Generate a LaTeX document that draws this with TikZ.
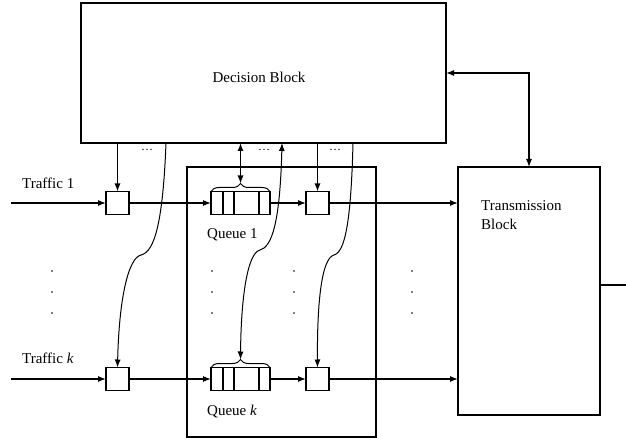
\documentclass[tikz,border=0pt]{standalone}
\usepackage{fontspec}
\setmainfont{Liberation Serif}
\usetikzlibrary{arrows.meta,decorations.pathreplacing,calc}
\begin{document}
\begin{tikzpicture}[x=1pt,y=-1pt,
  blk/.style={draw,line width=1.8pt,inner sep=0pt,outer sep=0pt},
  sbox/.style={draw,line width=1.8pt,minimum width=23pt,minimum height=23pt,inner sep=0pt,outer sep=0pt},
  qbox/.style={draw,line width=1.8pt,minimum width=59pt,minimum height=23pt,inner sep=0pt,outer sep=0pt},
  tip/.style={Latex[length=8pt,width=6pt]},
  conn/.style={line width=1.1pt,-{Latex[length=8pt,width=6pt]}},
  dconn/.style={line width=1.1pt,{Latex[length=8pt,width=6pt]}-{Latex[length=8pt,width=6pt]}},
  lbl/.style={font=\fontsize{15}{19}\selectfont,inner sep=0pt,anchor=west,align=left},
  ell/.style={font=\fontsize{12}{12}\selectfont,inner sep=0pt},
]
\useasboundingbox (0,0) rectangle (626,438);

% blocks
\node[blk,minimum width=365pt,minimum height=140pt] (dec) at (263.5,73) {};
\node[font=\fontsize{15}{19}\selectfont,inner sep=0pt] (dect) at (259,77) {Decision Block};
\node[blk,minimum width=142pt,minimum height=248pt] (tr) at (529,291) {};
\node[lbl] (trt) at (481,215) {Transmission\\Block};
\node[blk,minimum width=189pt,minimum height=270pt] (qb) at (281.5,302) {};

% small boxes and queues
\node[sbox] (b1) at (117.5,203) {};
\node[sbox] (b2) at (317.5,203) {};
\node[sbox] (bk1) at (117.5,379) {};
\node[sbox] (bk2) at (317.5,379) {};
\node[qbox] (q1) at (240.5,203) {};
\node[qbox] (qk) at (240.5,379) {};
\foreach \q in {q1,qk}{
  \foreach \o in {12,23,48}{
    \draw[line width=1.8pt] ($(\q.north west)+(\o,0)$) -- ($(\q.south west)+(\o,0)$);
  }
  \draw[line width=1pt,decorate,decoration={brace,amplitude=8pt}] (\q.north west) -- (\q.north east);
}

% labels
\node[lbl] (t1) at (22,183) {Traffic 1};
\node[lbl] (tk) at (22,358) {Traffic \textit{k}};
\node[lbl] (ql1) at (207,235) {Queue 1};
\node[lbl] (qlk) at (207,412) {Queue \textit{k}};
\node[ell] (e1) at (147,150) {\ldots};
\node[ell] (e2) at (264,150) {\ldots};
\node[ell] (e3) at (335,150) {\ldots};

% vertical dots
\foreach \x in {52,212,294,412}{
  \foreach \y in {271,292,313}{
    \fill (\x,\y) circle (0.9pt);
  }
}

% horizontal flows
\coordinate (in1) at (11,203);
\coordinate (ink) at (11,379);
\draw[conn] (in1) -- (b1.west);
\draw[conn] (b1.east) -- (q1.west);
\draw[conn] (q1.east) -- (b2.west);
\draw[conn] (b2.east) -- (b2.east -| tr.west);
\draw[conn] (ink) -- (bk1.west);
\draw[conn] (bk1.east) -- (qk.west);
\draw[conn] (qk.east) -- (bk2.west);
\draw[conn] (bk2.east) -- (bk2.east -| tr.west);

% decision to row 1
\draw[conn] (b1.north |- dec.south) -- (b1.north);
\draw[dconn] (q1.north |- dec.south) -- ($(q1.north)+(0,-8)$);
\draw[conn] (b2.north |- dec.south) -- (b2.north);

% curved connectors to row k
\coordinate (ca) at (166,143);
\coordinate (cb) at (282,143);
\coordinate (cc) at (353,143);
\coordinate (ka) at (141,255);
\coordinate (kb) at (260,250);
\coordinate (kc) at (334,255);
\draw[conn,line width=1pt] (ca) .. controls (163,220) and (155,252) .. (ka)
   .. controls (128,258) and (119,300) .. (bk1.north);
\draw[dconn,line width=1pt] (cb) .. controls (280,222) and (272,247) .. (kb)
   .. controls (247,253) and (241,300) .. ($(qk.north)+(0,-8)$);
\draw[conn,line width=1pt] (cc) .. controls (351,222) and (345,252) .. (kc)
   .. controls (322,258) and (317,300) .. (bk2.north);

% decision <-> transmission, output
\draw[dconn] (dec.east) -| (tr.north);
\coordinate (out) at (626,285);
\draw[line width=1.1pt] (tr.east |- out) -- (out);
\end{tikzpicture}
\end{document}
